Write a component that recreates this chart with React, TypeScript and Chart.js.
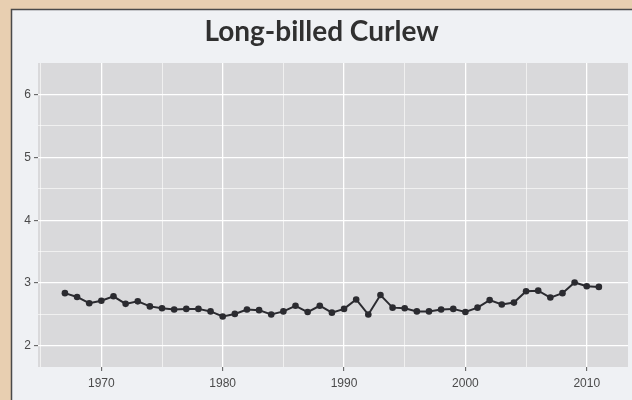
import React, { useEffect, useRef } from "react";
import { Chart, registerables } from "chart.js";

Chart.register(...registerables);

const titleText = "Long-billed Curlew";
const years = [
  1967, 1968, 1969, 1970, 1971, 1972, 1973, 1974, 1975, 1976, 1977, 1978, 1979, 1980, 1981,
  1982, 1983, 1984, 1985, 1986, 1987, 1988, 1989, 1990, 1991, 1992, 1993, 1994, 1995, 1996,
  1997, 1998, 1999, 2000, 2001, 2002, 2003, 2004, 2005, 2006, 2007, 2008, 2009, 2010, 2011,
];
const values = [
  2.84, 2.78, 2.68, 2.72, 2.79, 2.67, 2.71, 2.63, 2.6, 2.58, 2.59, 2.59, 2.55, 2.47, 2.51,
  2.58, 2.57, 2.5, 2.55, 2.64, 2.54, 2.64, 2.53, 2.59, 2.74, 2.5, 2.81, 2.61, 2.6, 2.55,
  2.55, 2.58, 2.59, 2.54, 2.61, 2.73, 2.66, 2.69, 2.87, 2.88, 2.77, 2.84, 3.01, 2.95, 2.94,
];
const xTickValues = [1965, 1970, 1975, 1980, 1985, 1990, 1995, 2000, 2005, 2010];
const yTickValues = [2, 2.5, 3, 3.5, 4, 4.5, 5, 5.5, 6];
const xRange = [1964.78, 2013.4];
const yRange = [1.666, 6.5];

const framePlugin = {
  id: "frame",
  beforeDraw(chart: any) {
    const { ctx, width, height, chartArea } = chart;
    ctx.save();
    ctx.fillStyle = "#e8cfb1";
    ctx.fillRect(0, 0, width, height);
    ctx.fillStyle = "#eff1f4";
    ctx.fillRect(11, 9, width - 11, height - 9);
    ctx.strokeStyle = "#4a4a4a";
    ctx.lineWidth = 1.5;
    ctx.beginPath();
    ctx.moveTo(11.5, height);
    ctx.lineTo(11.5, 9.5);
    ctx.lineTo(width, 9.5);
    ctx.stroke();
    ctx.fillStyle = "#d9d9db";
    ctx.fillRect(chartArea.left, chartArea.top, chartArea.right - chartArea.left, chartArea.bottom - chartArea.top);
    ctx.restore();
  },
};

export default function App() {
  const ref = useRef<HTMLCanvasElement | null>(null);
  useEffect(() => {
    if (!ref.current) return;
    const chart = new Chart(ref.current, {
      type: "line",
      data: {
        datasets: [
          {
            data: years.map((y, i) => ({ x: y, y: values[i] })),
            borderColor: "#2b2b30",
            backgroundColor: "#2b2b30",
            borderWidth: 2,
            pointRadius: 3.3,
            pointBorderWidth: 0,
            pointBackgroundColor: "#2b2b30",
            tension: 0,
          },
        ],
      },
      options: {
        animation: false,
        responsive: false,
        maintainAspectRatio: false,
        layout: { padding: { left: 15, right: 4, top: 0, bottom: 0 } },
        plugins: {
          legend: { display: false },
          tooltip: { enabled: false },
          title: {
            display: true,
            text: titleText,
            color: "#303030",
            font: { family: "Lato", size: 28, weight: "bold", lineHeight: 1.2 },
            padding: { top: 15.5, bottom: 13.9 },
          },
        },
        scales: {
          x: {
            type: "linear",
            min: xRange[0],
            max: xRange[1],
            afterBuildTicks(scale: any) {
              scale.ticks = xTickValues.map((v) => ({ value: v }));
            },
            afterFit(scale: any) {
              scale.height = 33;
            },
            border: { display: false },
            grid: {
              color: "#ffffff",
              lineWidth: (c: any) => (c.tick && c.tick.value % 10 === 0 ? 1.3 : 0.6),
              tickLength: 4,
              tickWidth: 1,
              tickColor: (c: any) => (c.tick && c.tick.value % 10 === 0 ? "#555555" : "rgba(0,0,0,0)"),
            },
            ticks: {
              autoSkip: false,
              maxRotation: 0,
              padding: 5,
              color: "#4a4a4a",
              font: { family: "Liberation Sans", size: 12 },
              callback: (v: any) => (Number(v) % 10 === 0 ? String(v) : ""),
            },
          },
          y: {
            type: "linear",
            min: yRange[0],
            max: yRange[1],
            afterBuildTicks(scale: any) {
              scale.ticks = yTickValues.map((v) => ({ value: v }));
            },
            afterFit(scale: any) {
              scale.width = 23;
            },
            border: { display: false },
            grid: {
              color: "#ffffff",
              lineWidth: (c: any) => (c.tick && Number.isInteger(c.tick.value) ? 1.3 : 0.6),
              tickLength: 4,
              tickWidth: 1,
              tickColor: (c: any) => (c.tick && Number.isInteger(c.tick.value) ? "#555555" : "rgba(0,0,0,0)"),
            },
            ticks: {
              autoSkip: false,
              padding: 3,
              color: "#4a4a4a",
              font: { family: "Liberation Sans", size: 12 },
              callback: (v: any) => (Number.isInteger(Number(v)) ? String(v) : ""),
            },
          },
        },
      },
      plugins: [framePlugin],
    } as any);
    return () => chart.destroy();
  }, []);
  return (
    <div style={{ position: "fixed", left: 0, top: 0, width: 632, height: 400 }}>
      <canvas ref={ref} width={632} height={400} style={{ display: "block", width: 632, height: 400 }} />
    </div>
  );
}
